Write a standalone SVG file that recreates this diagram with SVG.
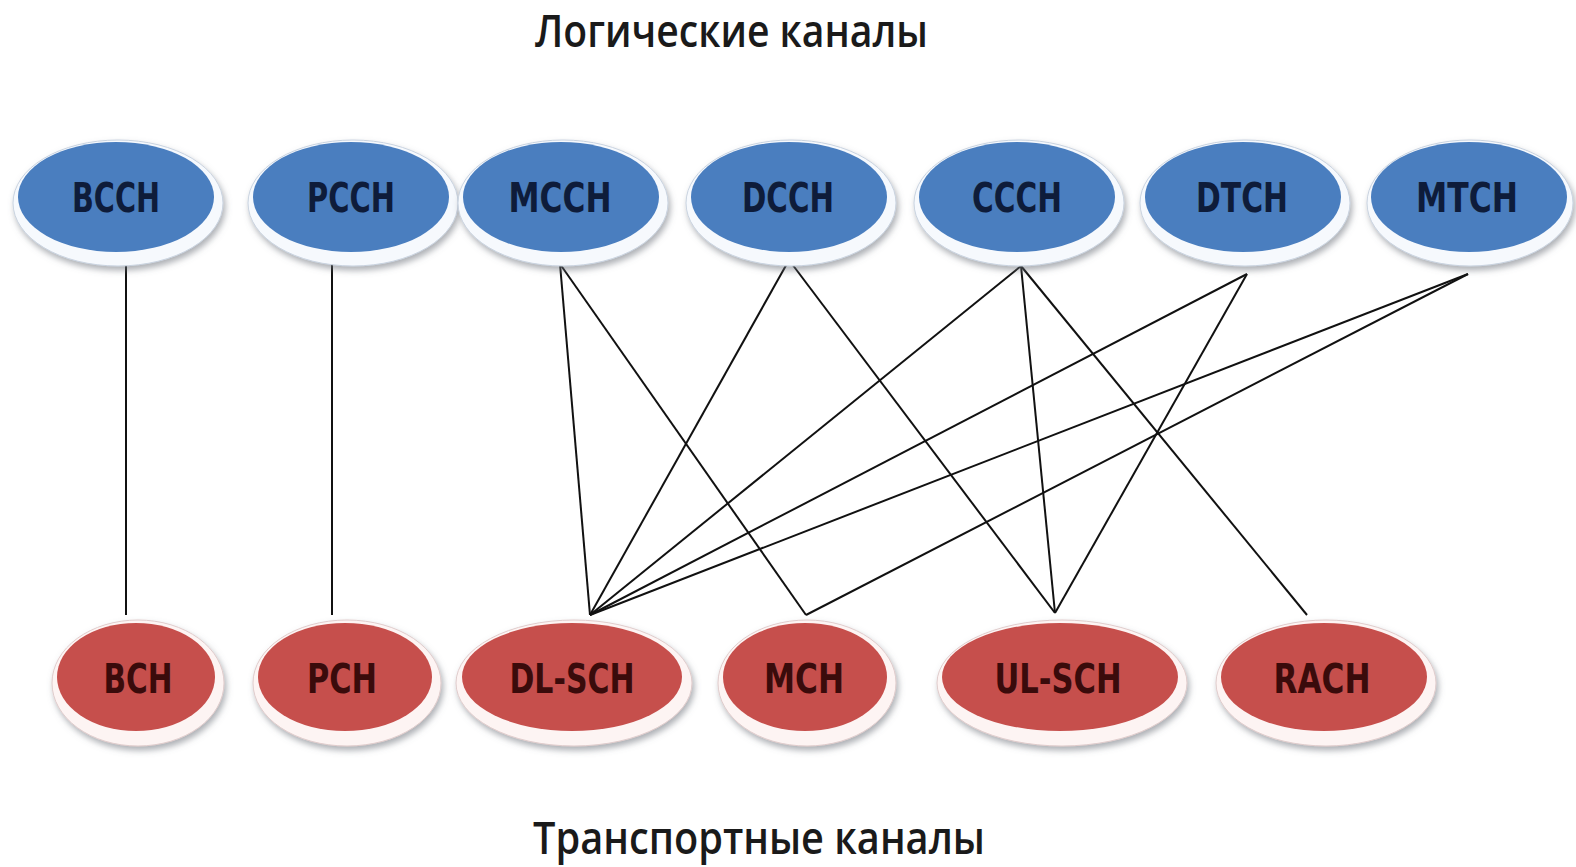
<svg xmlns="http://www.w3.org/2000/svg" width="1576" height="867" viewBox="0 0 1576 867">
<defs>
<filter id="sh" x="-10%" y="-15%" width="125%" height="140%">
<feGaussianBlur in="SourceAlpha" stdDeviation="3"/>
<feOffset dx="2" dy="4" result="b"/>
<feFlood flood-color="#6a6f78" flood-opacity="0.55"/>
<feComposite in2="b" operator="in"/>
<feMerge><feMergeNode/><feMergeNode in="SourceGraphic"/></feMerge>
</filter>
</defs>
<style>
.rimT{fill:#f6f9fd;stroke:#c9d3e0;stroke-width:1;filter:url(#sh)}
.rimB{fill:#fdf4f3;stroke:#e0cccc;stroke-width:1;filter:url(#sh)}
.blue{fill:#4a7ebf}
.red{fill:#c64f4c}
.lt{font-family:"DejaVu Sans Condensed","DejaVu Sans",sans-serif;font-stretch:condensed;font-weight:bold;font-size:40px;text-anchor:middle;fill:#0e1c3a}
.lb{font-family:"DejaVu Sans Condensed","DejaVu Sans",sans-serif;font-stretch:condensed;font-weight:bold;font-size:40px;text-anchor:middle;fill:#3a0b0b}
.title{font-family:"Open Sans","DejaVu Sans",sans-serif;font-weight:600;font-size:45px;fill:#1a1a1a}
.c line{stroke:#111;stroke-width:2}
</style>
<rect width="1576" height="867" fill="#ffffff"/>
<text class="title" x="535" y="47" textLength="393" lengthAdjust="spacingAndGlyphs">Логические каналы</text>
<text class="title" x="533" y="854" textLength="452" lengthAdjust="spacingAndGlyphs">Транспортные каналы</text>
<g id="connectors" class="c">
<line x1="126" y1="263" x2="126" y2="615"/>
<line x1="332" y1="263" x2="332" y2="615"/>
<line x1="560" y1="264" x2="590" y2="615"/>
<line x1="560" y1="264" x2="806" y2="615"/>
<line x1="789" y1="260" x2="590" y2="615"/>
<line x1="789" y1="260" x2="1055" y2="613"/>
<line x1="1021" y1="266" x2="590" y2="615"/>
<line x1="1021" y1="266" x2="1055" y2="613"/>
<line x1="1021" y1="266" x2="1307" y2="615"/>
<line x1="1247" y1="274" x2="590" y2="615"/>
<line x1="1247" y1="274" x2="1055" y2="613"/>
<line x1="1468" y1="274" x2="590" y2="615"/>
<line x1="1468" y1="274" x2="806" y2="615"/>
</g>
<g id="BCCH"><ellipse class="rimT" cx="118" cy="203" rx="105" ry="63"/><ellipse class="blue" cx="116" cy="197" rx="98" ry="55"/><text class="lt" x="116" y="212" textLength="88" lengthAdjust="spacingAndGlyphs">BCCH</text></g>
<g id="PCCH"><ellipse class="rimT" cx="353" cy="203" rx="105" ry="63"/><ellipse class="blue" cx="351" cy="197" rx="98" ry="55"/><text class="lt" x="351" y="212" textLength="88" lengthAdjust="spacingAndGlyphs">PCCH</text></g>
<g id="MCCH"><ellipse class="rimT" cx="563" cy="203" rx="105" ry="63"/><ellipse class="blue" cx="561" cy="197" rx="98" ry="55"/><text class="lt" x="560" y="212" textLength="103" lengthAdjust="spacingAndGlyphs">MCCH</text></g>
<g id="DCCH"><ellipse class="rimT" cx="791" cy="203" rx="105" ry="63"/><ellipse class="blue" cx="789" cy="197" rx="98" ry="55"/><text class="lt" x="788" y="212" textLength="92" lengthAdjust="spacingAndGlyphs">DCCH</text></g>
<g id="CCCH"><ellipse class="rimT" cx="1019" cy="203" rx="105" ry="63"/><ellipse class="blue" cx="1017" cy="197" rx="98" ry="55"/><text class="lt" x="1017" y="212" textLength="90" lengthAdjust="spacingAndGlyphs">CCCH</text></g>
<g id="DTCH"><ellipse class="rimT" cx="1245" cy="203" rx="105" ry="63"/><ellipse class="blue" cx="1243" cy="197" rx="98" ry="55"/><text class="lt" x="1242" y="212" textLength="92" lengthAdjust="spacingAndGlyphs">DTCH</text></g>
<g id="MTCH"><ellipse class="rimT" cx="1470" cy="203" rx="103" ry="63"/><ellipse class="blue" cx="1469" cy="197" rx="98" ry="55"/><text class="lt" x="1467" y="212" textLength="102" lengthAdjust="spacingAndGlyphs">MTCH</text></g>
<g id="BCH"><ellipse class="rimB" cx="138" cy="683" rx="86" ry="63"/><ellipse class="red" cx="136" cy="677" rx="79" ry="54"/><text class="lb" x="138" y="693" textLength="69" lengthAdjust="spacingAndGlyphs">BCH</text></g>
<g id="PCH"><ellipse class="rimB" cx="347" cy="683" rx="94" ry="63"/><ellipse class="red" cx="345" cy="677" rx="87" ry="54"/><text class="lb" x="342" y="693" textLength="70" lengthAdjust="spacingAndGlyphs">PCH</text></g>
<g id="DL-SCH"><ellipse class="rimB" cx="574" cy="683" rx="118" ry="63"/><ellipse class="red" cx="572" cy="677" rx="110" ry="54"/><text class="lb" x="572" y="693" textLength="125" lengthAdjust="spacingAndGlyphs">DL-SCH</text></g>
<g id="MCH"><ellipse class="rimB" cx="807" cy="683" rx="89" ry="63"/><ellipse class="red" cx="805" cy="677" rx="82" ry="54"/><text class="lb" x="804" y="693" textLength="80" lengthAdjust="spacingAndGlyphs">MCH</text></g>
<g id="UL-SCH"><ellipse class="rimB" cx="1062" cy="683" rx="125" ry="63"/><ellipse class="red" cx="1060" cy="677" rx="118" ry="54"/><text class="lb" x="1058" y="693" textLength="127" lengthAdjust="spacingAndGlyphs">UL-SCH</text></g>
<g id="RACH"><ellipse class="rimB" cx="1326" cy="683" rx="110" ry="63"/><ellipse class="red" cx="1324" cy="677" rx="103" ry="54"/><text class="lb" x="1322" y="693" textLength="97" lengthAdjust="spacingAndGlyphs">RACH</text></g>
</svg>
